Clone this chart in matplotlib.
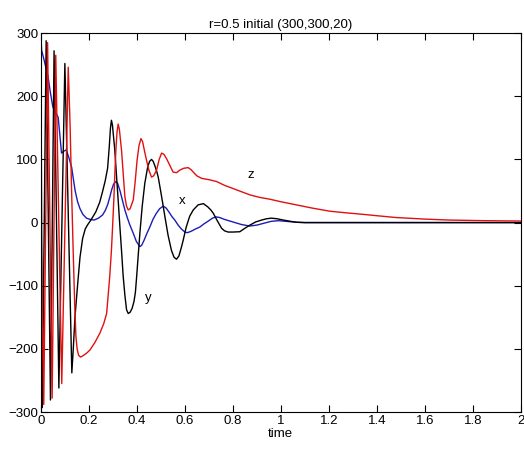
import numpy as np
import matplotlib
matplotlib.use('Agg')
import matplotlib.pyplot as plt

# values
x_t = [0, 0.003, 0.015, 0.03, 0.04, 0.05, 0.06, 0.072, 0.08, 0.086, 0.095,
       0.105, 0.115, 0.128, 0.135, 0.143, 0.153, 0.163, 0.175, 0.19, 0.205,
       0.222, 0.24, 0.257, 0.268, 0.278, 0.287, 0.295, 0.303, 0.3125, 0.32,
       0.33, 0.34, 0.35, 0.36, 0.37, 0.385, 0.398, 0.4125, 0.42, 0.43, 0.442,
       0.454, 0.467, 0.48, 0.495, 0.51, 0.522, 0.535, 0.547, 0.558, 0.572,
       0.585, 0.6, 0.61, 0.625, 0.645, 0.6625, 0.68, 0.7, 0.715, 0.73, 0.745,
       0.765, 0.8, 0.835, 0.87, 0.9, 0.93, 0.96, 0.99, 1.02, 1.065, 1.1, 1.4,
       1.7, 2.0]
x_v = [300, 273, 255, 231, 205, 183, 175, 167, 135, 110, 113,
       115, 105, 88, 70, 50, 33, 22, 13, 7, 5,
       4, 7, 12, 19, 28, 40, 52, 61, 65, 62,
       50, 35, 20, 8, -3, -17, -30, -38, -36, -28, -17,
       -7, 5, 14, 22, 26, 23, 16, 9, 4, -4,
       -10, -15, -16, -14, -10, -7, -2, 3, 7, 9, 8,
       5, 1, -3, -5.5, -4, -1, 2, 3, 2, 0.5, 0, 0,
       0, 0]

y_t = [0, 0.006, 0.022, 0.04, 0.055, 0.075, 0.1, 0.129, 0.135, 0.142, 0.153,
       0.163, 0.174, 0.185, 0.194, 0.21, 0.229, 0.245, 0.257, 0.268, 0.278,
       0.285, 0.29, 0.294, 0.298, 0.303, 0.308, 0.315, 0.322, 0.329, 0.336,
       0.343, 0.35, 0.357, 0.364, 0.372, 0.38, 0.388, 0.394, 0.399, 0.406,
       0.4125, 0.422, 0.433, 0.445, 0.453, 0.461, 0.468, 0.475, 0.482, 0.489,
       0.5, 0.508, 0.517, 0.53, 0.544, 0.555, 0.565, 0.575, 0.585, 0.593,
       0.605, 0.62, 0.635, 0.655, 0.677, 0.695, 0.708, 0.718, 0.735, 0.753,
       0.765, 0.78, 0.8, 0.829, 0.85, 0.871, 0.895, 0.92, 0.94, 0.96, 0.985,
       1.01, 1.04, 1.065, 1.1, 1.4, 1.7, 2.0]
y_v = [300, -293, 288, -281, 272, -262, 252, -238, -200, -150, -99,
       -55, -25, -10, -4, 5, 17, 32, 49, 66, 86,
       120, 150, 162, 155, 135, 115, 75, 36, -5, -44,
       -85, -115, -138, -144, -142, -136, -125, -110, -86, -50,
       -17, 25, 62, 88, 97, 100, 97, 90, 82, 72,
       48, 30, 9, -20, -44, -55, -58, -53, -40, -28,
       -8, 10, 20, 28, 30, 25, 20, 15, 3, -9,
       -13, -15, -15, -14.5, -9, -4, 1, 4, 6, 7, 6,
       4, 2, 0.5, 0, 0, 0, 0]

z_t = [0, 0.012, 0.028, 0.047, 0.062, 0.087, 0.114, 0.118, 0.122, 0.128,
       0.135, 0.141, 0.146, 0.151, 0.157, 0.165, 0.175, 0.19, 0.204, 0.225,
       0.246, 0.262, 0.274, 0.28, 0.287, 0.294, 0.299, 0.304, 0.308, 0.3125,
       0.317, 0.322, 0.327, 0.331, 0.336, 0.343, 0.35, 0.357, 0.364, 0.372,
       0.385, 0.393, 0.401, 0.409, 0.417, 0.424, 0.432, 0.44, 0.45, 0.461,
       0.47, 0.482, 0.493, 0.503, 0.513, 0.524, 0.538, 0.551, 0.565, 0.579,
       0.595, 0.614, 0.625, 0.635, 0.65, 0.67, 0.7, 0.732, 0.765, 0.8, 0.835,
       0.87, 0.91, 0.954, 1.0, 1.065, 1.13, 1.204, 1.27, 1.343, 1.41, 1.48,
       1.6, 1.7, 1.85, 2.0]
z_v = [20, -288, 285, -278, 265, -255, 246, 200, 150, 50,
       -50, -130, -180, -200, -210, -213, -211, -207, -202, -190,
       -175, -160, -144, -117, -85, -44, -5, 36, 75, 115,
       142, 156, 148, 133, 115, 78, 41, 26, 20, 22,
       36, 65, 99, 122, 133, 128, 113, 99, 83, 72,
       74, 83, 100, 110, 108, 101, 90, 80, 79, 83,
       86, 87, 84, 80, 74, 70, 68, 65, 59, 54, 49,
       44, 40, 37, 33, 28, 23, 18, 15.5, 13, 10.5, 8,
       5.5, 4, 3, 2.4]

plt.rcParams['font.family'] = ['Liberation Sans', 'DejaVu Sans']
plt.rcParams['font.size'] = 9.5

fig = plt.figure(figsize=(5.24, 4.54), dpi=100)
ax = fig.add_axes([0.078, 0.0925, 0.916, 0.8345])

ax.plot(x_t, x_v, color='#1c1cb4', lw=1)
ax.plot(y_t, y_v, color='black', lw=1)
ax.plot(z_t, z_v, color='#e01010', lw=1)

ax.text(0.8625, 70, 'z', fontsize=9.5)
ax.text(0.575, 29, 'x', fontsize=9.5)
ax.text(0.433, -124, 'y', fontsize=9.5)

ax.set_xlim(0, 2)
ax.set_ylim(-300, 300)
ax.set_xticks(np.arange(0, 2.01, 0.2))
ax.set_xticklabels(['0', '0.2', '0.4', '0.6', '0.8', '1', '1.2', '1.4', '1.6', '1.8', '2'])
ax.set_yticks(np.arange(-300, 301, 100))
ax.tick_params(direction='in', top=True, right=True, length=5, pad=2)
ax.set_xlabel('time', labelpad=1)
ax.set_title('r=0.5 initial (300,300,20)', fontsize=9.5, pad=4)

fig.savefig('out.png', dpi=100)
